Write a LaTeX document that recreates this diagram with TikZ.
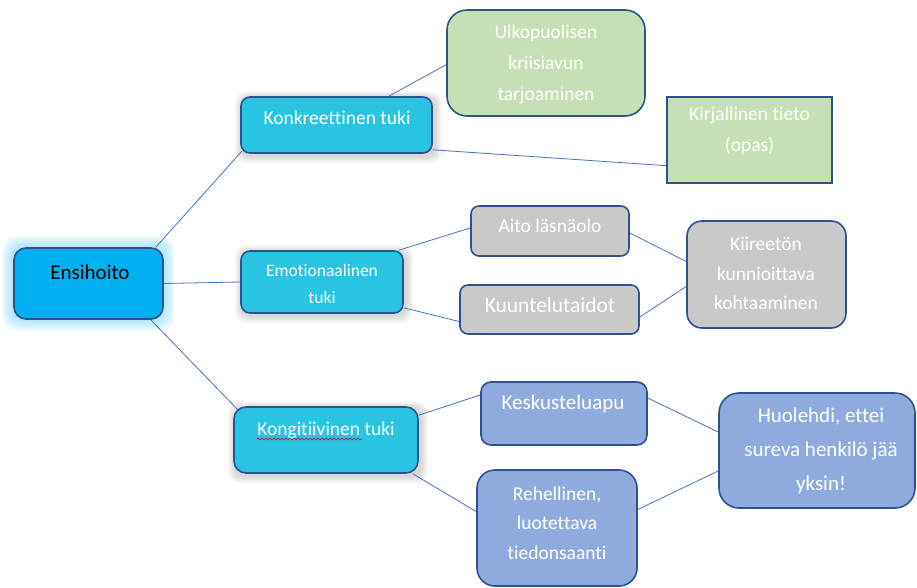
\documentclass[tikz,border=0pt]{standalone}
\usepackage{fontspec}
\setmainfont{Carlito}[Ligatures=NoCommon]
\usetikzlibrary{calc,decorations.pathmorphing}
\pgfdeclarelayer{bg}
\pgfsetlayers{bg,main}
\definecolor{ensfill}{HTML}{00B0F0}
\definecolor{lonefill}{HTML}{29C4E2}
\definecolor{grn}{HTML}{C5E0B4}
\definecolor{gry}{HTML}{C9C9C9}
\definecolor{blu}{HTML}{8FAADC}
\definecolor{bord}{HTML}{2F528F}
\definecolor{conn}{HTML}{4472C4}
\begin{document}
\begin{tikzpicture}[x=1pt,y=-1pt,
  box/.style={draw=bord, line width=1.6pt, inner sep=0pt},
  txt/.style={text=white, align=center, inner sep=0pt},
  conline/.style={draw=conn, line width=0.8pt},
  fa/.style={font=\fontsize{19.5}{31}\selectfont}]
\useasboundingbox (0,0) rectangle (917,587);

% boxes
\node[box, fill=ensfill, rounded corners=12pt, minimum width=149pt, minimum height=71pt] (ens) at (88.5,283.5) {};
\node[box, fill=lonefill, rounded corners=9pt, minimum width=191pt, minimum height=56pt] (konk) at (336.5,125) {};
\node[box, fill=lonefill, rounded corners=9pt, minimum width=162pt, minimum height=62pt] (emo) at (322,282) {};
\node[box, fill=lonefill, rounded corners=12pt, minimum width=184pt, minimum height=66pt] (kong) at (326,440) {};
\node[box, fill=grn, rounded corners=20pt, minimum width=198pt, minimum height=106pt] (ulk) at (546,63) {};
\node[box, fill=grn, minimum width=165pt, minimum height=86pt] (kirj) at (749.5,140) {};
\node[box, fill=gry, rounded corners=8pt, minimum width=158pt, minimum height=50pt] (aito) at (550,231) {};
\node[box, fill=gry, rounded corners=8pt, minimum width=179pt, minimum height=49pt] (kuun) at (549.5,309.5) {};
\node[box, fill=gry, rounded corners=15pt, minimum width=159pt, minimum height=107pt] (kiir) at (766.5,274.5) {};
\node[box, fill=blu, rounded corners=10pt, minimum width=166pt, minimum height=63pt] (kesk) at (564,413.5) {};
\node[box, fill=blu, rounded corners=18pt, minimum width=160pt, minimum height=116pt] (reh) at (557,528) {};
\node[box, fill=blu, rounded corners=20pt, minimum width=196pt, minimum height=115pt] (huol) at (817,450.5) {};

% texts
\node[txt, text=black, font=\fontsize{21}{25}\selectfont] (enst) at (90,272) {Ensihoito};
\node[txt, fa] (konkt) at (337,118) {Konkreettinen tuki};
\node[txt, font=\fontsize{17.5}{27}\selectfont] (emot) at (322,283.5) {Emotionaalinen\\tuki};
\node[txt, fa] (kongt) at (326,430) {Kongitiivinen tuki};
\node[txt, fa] (ulkt) at (546,64) {Ulkopuolisen\\kriisiavun\\tarjoaminen};
\node[txt, fa] (kirjt) at (749.5,130.5) {Kirjallinen tieto\\(opas)};
\node[txt, fa] (aitot) at (550,226) {Aito läsnäolo};
\node[txt, font=\fontsize{21.5}{26}\selectfont] (kuunt) at (550,305) {Kuuntelutaidot};
\node[txt, font=\fontsize{19.5}{29.5}\selectfont] (kiirt) at (766,273.5) {Kiireetön\\kunnioittava\\kohtaaminen};
\node[txt, font=\fontsize{21}{26}\selectfont] (keskt) at (563,404) {Keskusteluapu};
\node[txt, font=\fontsize{19.5}{29.5}\selectfont] (reht) at (557,523) {Rehellinen,\\luotettava\\tiedonsaanti};
\node[txt, font=\fontsize{21}{34}\selectfont] (huolt) at (821,451) {Huolehdi, ettei\\sureva henkilö jää\\yksin!};

% spelling underline
\draw[red!85!black, line width=0.6pt, decorate, decoration={snake, amplitude=0.9pt, segment length=4pt}] (257,439) -- (362,439);

\begin{pgfonlayer}{bg}
% glow
\foreach \k in {1,...,11}
  \fill[ensfill!55!white, opacity=0.065, rounded corners=13pt]
    ($(ens.south west)+(-\k pt,-\k pt)$) rectangle ($(ens.north east)+(\k pt,\k pt)$);
% shadows
\foreach \n in {konk,emo,kong}
  \foreach \k in {1,...,7}
    \fill[black, opacity=0.025, rounded corners=10pt]
      ($(\n.south west)+(-\k pt+2pt,-\k pt-2pt)$) rectangle ($(\n.north east)+(\k pt+2pt,\k pt-2pt)$);
% connectors
\draw[conline] ([xshift=-8pt]ens.north east) -- ([xshift=2pt,yshift=3pt]konk.south west);
\draw[conline] (ens.east) -- (emo.west);
\draw[conline] ([xshift=-13pt]ens.south east) -- ([xshift=5pt,yshift=-4pt]kong.north west);
\draw[conline] ([xshift=-44pt]konk.north east) -- ([xshift=3pt]ulk.west);
\draw[conline] ([yshift=4pt]konk.south east) -- ([xshift=2pt,yshift=18pt]kirj.south west);
\draw[conline] ([xshift=-5pt]emo.north east) -- ([yshift=3pt]aito.west);
\draw[conline] ([yshift=6pt]emo.south east) -- ([xshift=2pt,yshift=-12.5pt]kuun.west);
\draw[conline] ([yshift=-2pt]aito.east) -- ([xshift=3pt,yshift=11.5pt]kiir.west);
\draw[conline] ([yshift=-7.5pt]kuun.east) -- ([yshift=-12pt]kiir.west);
\draw[conline] ([yshift=-9pt]kong.north east) -- ([xshift=3pt,yshift=19.5pt]kesk.west);
\draw[conline] ([xshift=-6pt]kong.south east) -- ([yshift=16.5pt]reh.west);
\draw[conline] ([yshift=15.5pt]kesk.east) -- ([xshift=2pt,yshift=17.5pt]huol.west);
\draw[conline] ([yshift=18.5pt]reh.east) -- ([xshift=2pt,yshift=-19.5pt]huol.west);
\end{pgfonlayer}
\end{tikzpicture}
\end{document}
